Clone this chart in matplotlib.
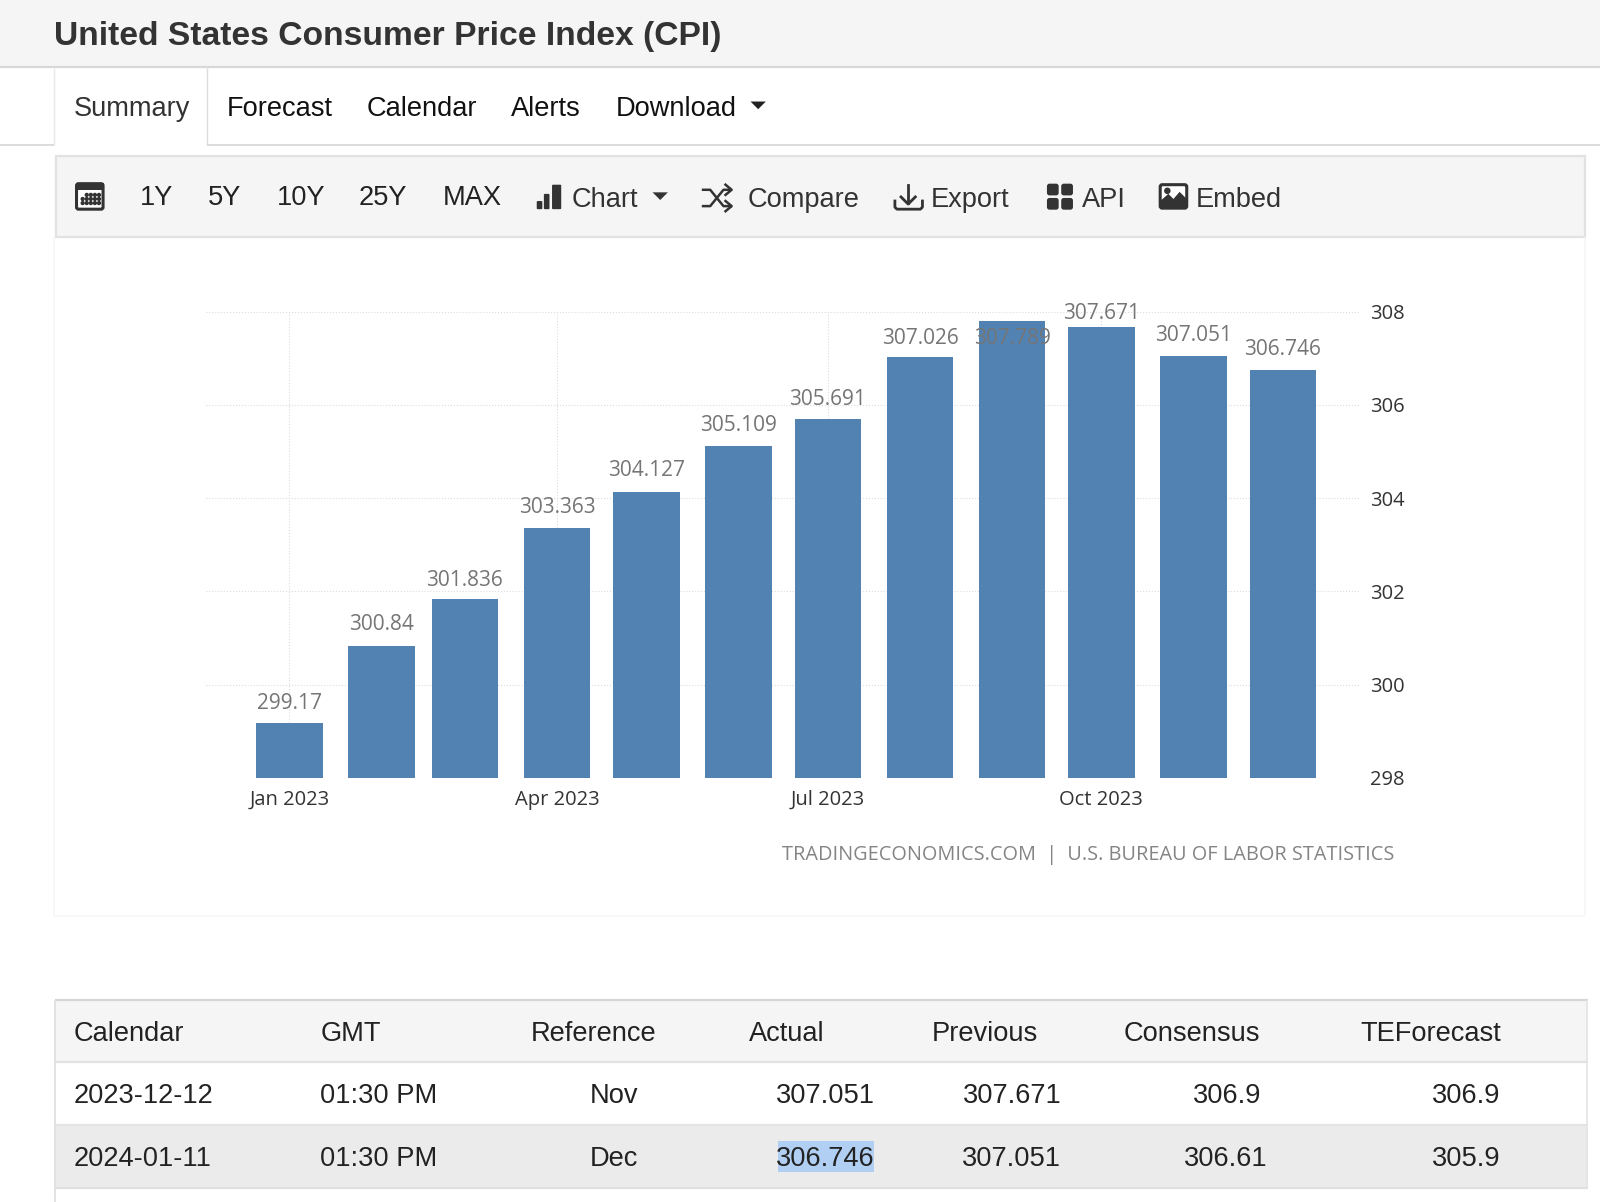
import pandas as pd
import matplotlib
matplotlib.use('Agg')
import matplotlib.pyplot as plt
import matplotlib.dates as mdates
from matplotlib.patches import Rectangle, FancyBboxPatch, Polygon, Circle

months = ['2023-01-01', '2023-02-01', '2023-03-01', '2023-04-01', '2023-05-01', '2023-06-01',
          '2023-07-01', '2023-08-01', '2023-09-01', '2023-10-01', '2023-11-01', '2023-12-01']
cpi = [299.17, 300.84, 301.836, 303.363, 304.127, 305.109,
       305.691, 307.026, 307.789, 307.671, 307.051, 306.746]
cpi_labels = ['299.17', '300.84', '301.836', '303.363', '304.127', '305.109',
              '305.691', '307.026', '307.789', '307.671', '307.051', '306.746']
y_ticks = [298, 300, 302, 304, 306, 308]
x_tick_months = ['2023-01-01', '2023-04-01', '2023-07-01', '2023-10-01']
x_tick_labels = ['Jan 2023', 'Apr 2023', 'Jul 2023', 'Oct 2023']

nav_tabs = ['Summary', 'Forecast', 'Calendar', 'Alerts', 'Download']
ranges = ['1Y', '5Y', '10Y', '25Y', 'MAX']
tools = ['Chart', 'Compare', 'Export', 'API', 'Embed']
table_header = ['Calendar', 'GMT', 'Reference', 'Actual', 'Previous', 'Consensus', 'TEForecast']
row_dec = ['2023-12-12', '01:30 PM', 'Nov', '307.051', '307.671', '306.9', '306.9']
row_jan = ['2024-01-11', '01:30 PM', 'Dec', '306.746', '307.051', '306.61', '305.9']

W, H = 1568, 1178  # layout coordinates, scaled to the 1600 px output
UI = 'Liberation Sans'
CHART = 'Open Sans'
BAR = '#5282b2'

fig = plt.figure(figsize=(16, 12.02), dpi=100, facecolor='white')
bg = fig.add_axes([0, 0, 1, 1], zorder=0)
bg.set_xlim(0, W)
bg.set_ylim(H, 0)
bg.axis('off')


def rect(x0, y0, x1, y1, color, ax=bg, **kw):
    ax.add_patch(Rectangle((x0, y0), x1 - x0, y1 - y0, facecolor=color, edgecolor='none', **kw))


def line(xs, ys, color='#d2d2d2', lw=1.5):
    bg.plot(xs, ys, color=color, lw=lw, solid_capstyle='butt')


def txt(x, y, s, size=19.6, color='#222222', ha='left', weight='normal'):
    bg.text(x, y + 2.3, s, fontsize=size, color=color, ha=ha, va='center', family=UI, fontweight=weight)


def caret(x, y, color='#222222'):
    bg.add_patch(Polygon([(x - 7.5, y - 3.5), (x + 7.5, y - 3.5), (x, y + 4)], facecolor=color, edgecolor='none'))


# page header
rect(0, 0, W, 66, '#f5f5f5')
line([0, W], [66, 66], '#d8d8d8', 1.6)
txt(53, 33, 'United States Consumer Price Index (CPI)', size=24.2, color='#333333', weight='bold')

# tabs
line([0, 53], [142, 142], '#dcdcdc', 1.4)
line([203, W], [142, 142], '#dcdcdc', 1.4)
line([53, 53], [67, 142], '#e8e8e8', 1.0)
line([203, 203], [67, 142], '#dcdcdc', 1.0)
for x, s in zip([72, 222, 359, 501, 603], nav_tabs):
    txt(x, 105, s, color='#333333' if s == 'Summary' else '#111111')
caret(743, 103)

# toolbar
bg.add_patch(Rectangle((55, 153), 1498, 79, facecolor='#f5f5f5', edgecolor='#e2e2e2', lw=1.6))
for x, s in zip([137, 204, 271, 351, 434], ranges):
    txt(x, 192, s)
for x, s in zip([560, 733, 912, 1060, 1172], tools):
    txt(x, 194, s, color='#333333')
caret(647, 192, '#333333')

ink = '#333333'
# calendar icon
bg.add_patch(FancyBboxPatch((75, 180), 26, 25, boxstyle='round,pad=0,rounding_size=2', facecolor='white', edgecolor=ink, lw=2.2))
rect(74, 179, 102, 186, ink)
for gx in [81, 85, 89, 93, 97]:
    for gy in [191, 195, 199]:
        if not (gy == 191 and gx == 81):
            bg.add_patch(Circle((gx, gy), 1.4, color=ink))
# bars icon
for x0, top in [(526, 197), (533, 190), (541, 181)]:
    bg.add_patch(FancyBboxPatch((x0, top), 5.5 if x0 < 541 else 9, 205 - top, boxstyle='round,pad=0,rounding_size=1', facecolor=ink, edgecolor='none'))
# shuffle icon
bg.plot([689, 696, 709, 716], [202, 202, 186, 186], color=ink, lw=1.8)
bg.plot([689, 696, 709, 716], [186, 186, 202, 202], color=ink, lw=1.8)
bg.plot([711, 717, 711], [181, 186, 191], color=ink, lw=1.8)
bg.plot([711, 717, 711], [197, 202, 207], color=ink, lw=1.8)
# download icon
bg.plot([890, 890], [181, 199], color=ink, lw=2)
bg.plot([883, 890, 897], [193, 200, 193], color=ink, lw=2)
bg.plot([877, 877, 879, 902, 904, 904], [197, 203, 205, 205, 203, 197], color=ink, lw=2)
# api icon
for gx in [1026, 1040]:
    for gy in [180, 194]:
        bg.add_patch(FancyBboxPatch((gx, gy), 11.5, 11.5, boxstyle='round,pad=0,rounding_size=2.5', facecolor=ink, edgecolor='none'))
# embed icon
bg.add_patch(FancyBboxPatch((1137, 181), 26, 23, boxstyle='round,pad=0,rounding_size=2', facecolor='white', edgecolor=ink, lw=2.2))
bg.add_patch(Polygon([(1137, 204), (1137, 197), (1145, 190), (1150, 195), (1156, 188), (1163, 195), (1163, 204)], facecolor=ink, edgecolor='none'))
bg.add_patch(Circle((1144, 187), 2.5, color=ink))

# chart container
line([53, 53], [232, 898], '#f6f6f6', 1.2)
line([1553, 1553], [232, 898], '#f6f6f6', 1.2)
line([53, 1553], [898, 898], '#f6f6f6', 1.2)

# chart
left, right, top, bottom = 202, 1333, 305.4, 762.4
ax = fig.add_axes([left / W, 1 - bottom / H, (right - left) / W, (bottom - top) / H], zorder=1)
ax.patch.set_alpha(0)
dates = pd.to_datetime(months)
ax.set_xlim(dates[0] - pd.Timedelta(days=28), dates[0] + pd.Timedelta(days=360))
ax.set_ylim(298, 308)
ax.bar(dates, [v - 298 for v in cpi], bottom=298, width=22.3, color=BAR, zorder=2, clip_on=False)
ax.set_yticks(y_ticks)
ax.set_xticks(pd.to_datetime(x_tick_months))
ax.set_xticklabels(x_tick_labels)
ax.xaxis.set_major_locator(plt.FixedLocator(mdates.date2num(pd.to_datetime(x_tick_months))))
ax.yaxis.tick_right()
ax.tick_params(axis='y', length=0, pad=7, labelsize=14.5, labelcolor='#333333')
ax.tick_params(axis='x', length=0, pad=8.5, labelsize=14.5, labelcolor='#333333')
for lab in ax.get_xticklabels() + ax.get_yticklabels():
    lab.set_family(CHART)
ax.grid(True, color='#dcdcdc', linestyle=':', linewidth=0.8, zorder=0)
ax.set_axisbelow(True)
for s in ax.spines.values():
    s.set_visible(False)

# the label offsets are in points above the bar top
label_offsets = [14.3, 15, 13.5, 14.5, 15.5, 15, 14.5, 13.5, -12, 10, 15, 14.5]
for d, v, s, off in zip(dates, cpi, cpi_labels, label_offsets):
    ax.annotate(s, (d, v), xytext=(0, off), textcoords='offset points', ha='center', va='center',
                fontsize=15, color='#757575', family=CHART, zorder=3, annotation_clip=False)

bg.text(1366, 838, 'TRADINGECONOMICS.COM  |  U.S. BUREAU OF LABOR STATISTICS', ha='right', va='center',
        fontsize=14.3, color='#848484', family=CHART)

# table
rect(54, 980, W - 12, 1041, '#f5f5f5')
rect(54, 1103, W - 12, 1164, '#ebebeb')
for y, c in [(980, '#d6d6d6'), (1041, '#e2e2e2'), (1103, '#e4e4e4'), (1164, '#e0e0e0')]:
    line([54, W - 12], [y, y], c, 1.6)
line([54, 54], [980, H], '#dedede', 1.2)
line([W - 13, W - 13], [980, 1164], '#e4e4e4', 1.2)
rect(762, 1118, 857, 1149, '#b0cff2')

for x, s in zip([72, 314, 520, 734, 913, 1101, 1333], table_header):
    txt(x, 1011, s, color='#222222')
# right edge for numbers, left edge for the first two columns
for y, row, num_right in [(1072, row_dec, [625, 857, 1040, 1236, 1470]),
                          (1134, row_jan, [625, 857, 1040, 1242, 1470])]:
    txt(72, y, row[0])
    txt(314, y, row[1])
    for x, s in zip(num_right, row[2:]):
        txt(x, y, s, ha='right')

fig.savefig('out.png', dpi=100, facecolor='white')
